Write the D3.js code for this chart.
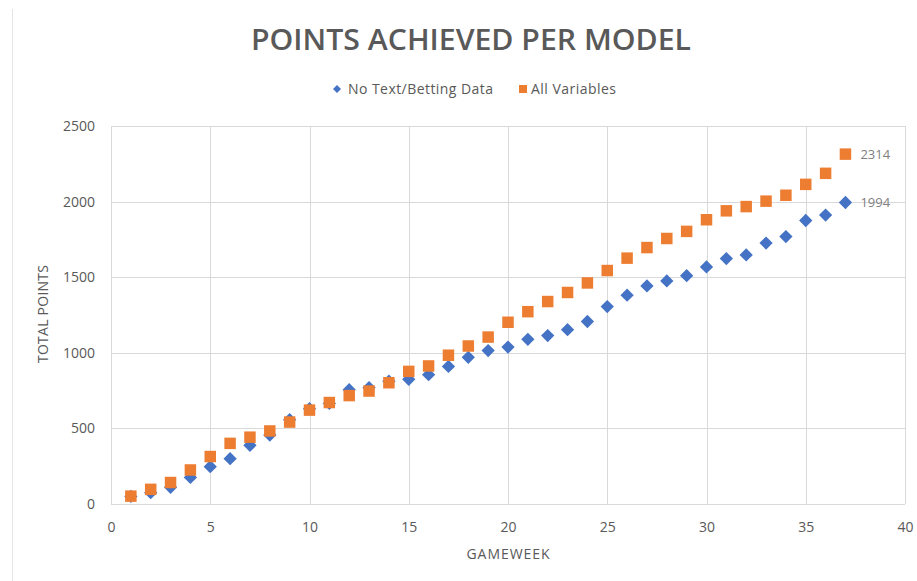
<!DOCTYPE html>
<html>
	<head>
		<meta charset=utf-8>
		<title>Points Achieved Per Model</title>
		<style type="text/css">
			body { margin: 0; background: #fff; }
			text { font-family: "Open Sans", "Noto Sans", sans-serif; fill: #595959; }
			.grid line { stroke: #d9d9d9; stroke-width: 1; }
			.grid .domain { display: none; }
		</style>
		<script src="https://cdnjs.cloudflare.com/ajax/libs/d3/7.8.5/d3.min.js"></script>
	</head>
	<body>
		<script>
			// gameweeks (x values)
			var gameweeks = [1, 2, 3, 4, 5, 6, 7, 8, 9, 10, 11, 12, 13, 14, 15, 16, 17, 18, 19,
				20, 21, 22, 23, 24, 25, 26, 27, 28, 29, 30, 31, 32, 33, 34, 35, 36, 37];

			// cumulative points
			var noTextBetting = [50, 75, 110, 176, 247, 300, 388, 456, 558, 630, 665, 756, 770, 812, 825,
				855, 910, 970, 1015, 1038, 1089, 1114, 1153, 1207, 1306, 1381, 1442, 1475, 1510, 1568,
				1623, 1647, 1726, 1769, 1875, 1911, 1994];
			var allVariables = [52, 97, 142, 225, 314, 401, 442, 483, 542, 621, 671, 717, 747, 802, 877,
				913, 984, 1045, 1104, 1202, 1272, 1339, 1399, 1462, 1544, 1626, 1696, 1756, 1803, 1880,
				1939, 1967, 2003, 2042, 2114, 2187, 2314];

			var seriesNames = ["No Text/Betting Data", "All Variables"];
			var xTicks = [0, 5, 10, 15, 20, 25, 30, 35, 40];
			var yTicks = [0, 500, 1000, 1500, 2000, 2500];

			var blue = "#4472C4", orange = "#ED7D31";

			var W = 917, H = 581;
			var margin = {top: 126, right: 12, bottom: 77, left: 111},
				width = W - margin.left - margin.right,
				height = H - margin.top - margin.bottom;

			var svg = d3.select("body")
				.append("svg")
				.attr("width", W)
				.attr("height", H);

			// faint outer chart border on the left
			svg.append("line")
				.attr("x1", 12.5).attr("x2", 12.5)
				.attr("y1", 9).attr("y2", H)
				.style("stroke", "#e4e4e4");

			var x = d3.scaleLinear().domain([0, 40]).range([0, width]);
			var y = d3.scaleLinear().domain([0, 2500]).range([height, 0]);

			var g = svg.append("g")
				.attr("transform", "translate(" + margin.left + "," + margin.top + ")");

			// gridlines
			g.append("g")
				.attr("class", "grid")
				.attr("transform", "translate(0," + height + ")")
				.call(d3.axisBottom(x).tickValues(xTicks).tickSize(-height).tickFormat(""));
			g.append("g")
				.attr("class", "grid")
				.call(d3.axisLeft(y).tickValues(yTicks).tickSize(-width).tickFormat(""));
			g.selectAll(".grid line").attr("shape-rendering", "crispEdges");

			// tick labels
			var xAxis = g.append("g")
				.attr("transform", "translate(0," + height + ")")
				.call(d3.axisBottom(x).tickValues(xTicks).tickSize(0).tickPadding(18).tickFormat(d3.format("d")));
			var yAxis = g.append("g")
				.call(d3.axisLeft(y).tickValues(yTicks).tickSize(0).tickPadding(16).tickFormat(d3.format("d")));
			[xAxis, yAxis].forEach(function(a) {
				a.select(".domain").remove();
				a.selectAll("text")
					.style("font-size", "14px")
					.style("fill", "#595959")
					.style("font-family", "\"Open Sans\", sans-serif");
			});

			// points - blue first so orange sits on top
			var diamond = d3.symbol().type(d3.symbolSquare).size(88);
			var square = d3.symbol().type(d3.symbolSquare).size(132);

			g.append("g").selectAll("path")
				.data(gameweeks)
				.enter().append("path")
				.attr("d", diamond)
				.attr("transform", function(d, i) {
					return "translate(" + x(d) + "," + y(noTextBetting[i]) + ") rotate(45)";
				})
				.style("fill", blue);

			g.append("g").selectAll("path")
				.data(gameweeks)
				.enter().append("path")
				.attr("d", square)
				.attr("transform", function(d, i) {
					return "translate(" + x(d) + "," + y(allVariables[i]) + ")";
				})
				.style("fill", orange);

			// labels on last points
			var last = gameweeks.length - 1;
			[allVariables, noTextBetting].forEach(function(s) {
				g.append("text")
					.attr("x", x(gameweeks[last]) + 15)
					.attr("y", y(s[last]))
					.attr("dy", "0.35em")
					.style("font-size", "13px")
					.style("fill", "#7f7f7f")
					.text(s[last]);
			});

			// title
			svg.append("text")
				.attr("x", 471)
				.attr("y", 50)
				.attr("text-anchor", "middle")
				.attr("textLength", 440)
				.attr("lengthAdjust", "spacingAndGlyphs")
				.style("font-size", "28px")
				.style("font-weight", "600")
				.text("POINTS ACHIEVED PER MODEL");

			// legend
			var legend = svg.append("g").attr("transform", "translate(0,89)");
			legend.append("path")
				.attr("d", d3.symbol().type(d3.symbolSquare).size(32))
				.attr("transform", "translate(337,0) rotate(45)")
				.style("fill", blue);
			legend.append("text")
				.attr("x", 348).attr("y", 0).attr("dy", "0.35em")
				.attr("textLength", 145)
				.style("font-size", "14px")
				.text(seriesNames[0]);
			legend.append("rect")
				.attr("x", 519).attr("y", -4).attr("width", 8).attr("height", 8)
				.style("fill", orange);
			legend.append("text")
				.attr("x", 531).attr("y", 0).attr("dy", "0.35em")
				.attr("textLength", 85)
				.style("font-size", "14px")
				.text(seriesNames[1]);

			// axis titles
			svg.append("text")
				.attr("x", 508)
				.attr("y", 559)
				.attr("text-anchor", "middle")
				.attr("textLength", 83)
				.style("font-size", "14px")
				.text("GAMEWEEK");

			svg.append("text")
				.attr("transform", "translate(48,314) rotate(-90)")
				.attr("text-anchor", "middle")
				.attr("textLength", 98)
				.style("font-size", "14px")
				.text("TOTAL POINTS");
		</script>
	</body>
</html>
